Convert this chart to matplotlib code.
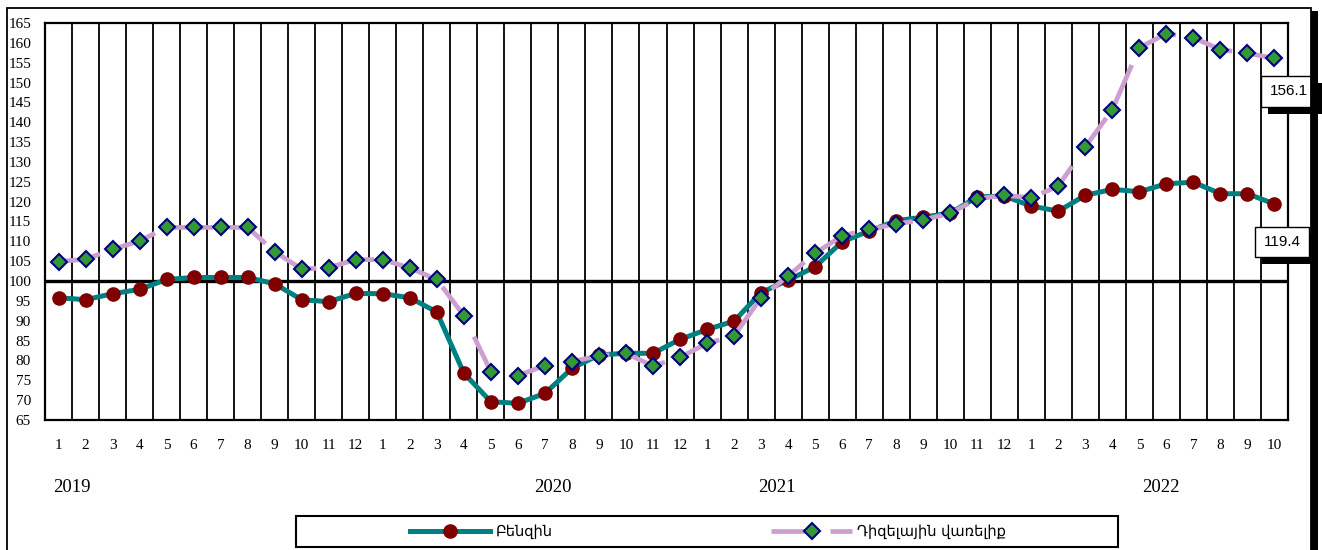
import matplotlib.pyplot as plt
import matplotlib.patheffects as pe
from matplotlib.patches import Rectangle
from matplotlib.transforms import blended_transform_factory

# monthly indices, Jan 2019 .. Oct 2022
petrol = [95.8, 95.3, 96.8, 97.9, 100.4, 100.9, 100.9, 100.9, 99.3, 95.3, 94.8, 96.9,
          96.8, 95.8, 92.2, 76.8, 69.6, 69.2, 71.7, 78.0, 81.4, 81.8, 81.8, 85.3,
          87.8, 89.9, 97.1, 100.2, 103.6, 109.9, 112.6, 115.2, 116.1, 117.1, 121.2, 121.4,
          118.9, 117.6, 121.6, 123.1, 122.5, 124.5, 124.9, 122.0, 122.0, 119.4]
diesel = [104.9, 105.5, 108.0, 110.1, 113.5, 113.5, 113.5, 113.5, 107.4, 103.0, 103.4, 105.4,
          105.4, 103.3, 100.4, 91.3, 77.2, 76.2, 78.7, 79.7, 81.2, 81.8, 78.6, 80.8,
          84.3, 86.2, 95.8, 101.3, 107.0, 111.4, 113.0, 114.4, 115.4, 117.1, 120.7, 121.6,
          121.0, 123.9, 133.8, 143.2, 158.8, 162.3, 161.3, 158.3, 157.4, 156.1]
month_labels = [str(m) for m in list(range(1, 13)) * 3 + list(range(1, 11))]
years = ['2019', '2020', '2021', '2022']
year_x = [0.5, 18.3, 26.6, 40.8]

W, H = 1322, 550
fig = plt.figure(figsize=(W / 100, H / 100), dpi=100)
ax = fig.add_axes([45 / W, 1 - 420 / H, (1288 - 45) / W, (420 - 23) / H])

x = list(range(len(petrol)))
l1, = ax.plot(x, petrol, color='#008080', lw=3.6, marker='o', ms=9.5,
              mfc='#800000', mec='#800000', zorder=3, label='Բենզին')
l2, = ax.plot(x, diesel, color='#CC9FD0', lw=3.4, dashes=(9, 3.5), marker='D', ms=8,
              mfc='#339933', mec='#000080', mew=1.5, zorder=4, label='Դիզելային վառելիք')

ax.set_xlim(-0.5, len(x) - 0.5)
ax.set_ylim(65, 165)
ax.set_yticks(range(65, 166, 5))
ax.set_xticks(x)
ax.set_xticklabels(month_labels)
ax.set_xticks([i - 0.5 for i in range(len(x) + 1)], minor=True)
ax.grid(which='minor', axis='x', color='black', lw=1.3, zorder=1)
ax.tick_params(which='both', length=0)
ax.tick_params(axis='x', pad=14)
ax.tick_params(axis='y', pad=10)
for lab in ax.get_xticklabels() + ax.get_yticklabels():
    lab.set_fontfamily('Liberation Serif')
    lab.set_fontsize(11)
for s in ax.spines.values():
    s.set_linewidth(1.6)
ax.axhline(100, color='black', lw=2.4, zorder=2)

tr = blended_transform_factory(ax.transData, ax.transAxes)
for yr, xp in zip(years, year_x):
    ax.text(xp, -0.169, yr, transform=tr, ha='center', va='center',
            family='Liberation Serif', fontsize=13.5)

# value labels on the last points
for vals, off in ((diesel, (10.4, -23.8)), (petrol, (5.4, -27.4))):
    t = ax.annotate(f'{vals[-1]:.1f}', xy=(x[-1], vals[-1]), xytext=off,
                    textcoords='offset points', ha='center', va='center',
                    family='Liberation Sans', fontsize=11, zorder=6,
                    annotation_clip=False,
                    bbox=dict(boxstyle='square,pad=0.55', fc='white', ec='black', lw=1))
    t.get_bbox_patch().set_path_effects(
        [pe.withSimplePatchShadow(offset=(5, -5), shadow_rgbFace='black', alpha=1)])

# outer frame with shadow
fig.patches.append(Rectangle((1311 / W, 0), 7 / W, 1 - 11 / H, transform=fig.transFigure,
                             fc='black', ec='none'))
fig.patches.append(Rectangle((7 / W, -0.05), (1311 - 7) / W, 1.05 - 8 / H,
                             transform=fig.transFigure, fc='none', ec='black', lw=1.3))

# legend
fig.patches.append(Rectangle((296 / W, 1 - 547 / H), (1118 - 296) / W, 31 / H,
                             transform=fig.transFigure, fc='white', ec='black', lw=1.5))
fig.legend(handles=[l1, l2], loc='center', bbox_to_anchor=(708 / W, 1 - 531.5 / H),
           ncol=2, frameon=False, handlelength=5.5, columnspacing=15, handletextpad=0.4,
           prop={'family': 'DejaVu Sans', 'size': 10.5})

fig.savefig('out.png', dpi=100)
